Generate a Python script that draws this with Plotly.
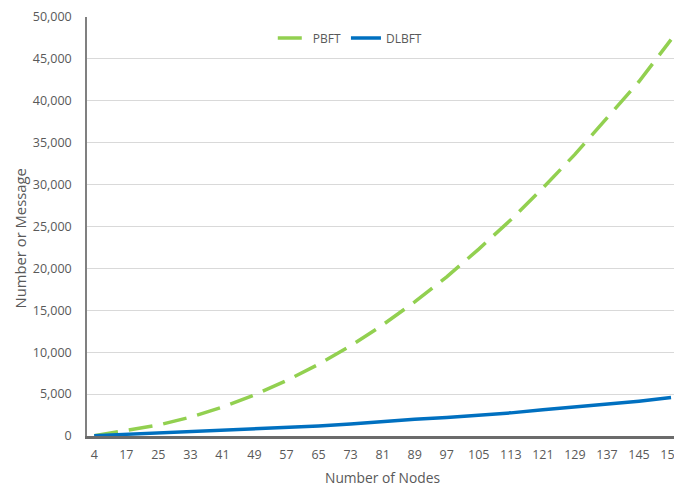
import plotly.graph_objects as go

nodes = ["4", "17", "25", "33", "41", "49", "57", "65", "73", "81", "89", "97",
         "105", "113", "121", "129", "137", "145", "153"]
pbft = [30, 620, 1300, 2250, 3450, 4900, 6600, 8550, 10750, 13250, 16000, 19000,
        22300, 25800, 29600, 33600, 37900, 42300, 47300]
dlbft = [40, 200, 360, 520, 680, 880, 1060, 1200, 1440, 1740, 1990, 2220,
         2480, 2760, 3120, 3440, 3800, 4160, 4590]

FONT = "Open Sans"
GRAY = "#595959"

fig = go.Figure()
fig.add_trace(go.Scatter(x=nodes, y=pbft, name="PBFT", mode="lines",
                         line=dict(color="#92D050", width=3.5, dash="24px,11px")))
fig.add_trace(go.Scatter(x=nodes, y=dlbft, name="DLBFT", mode="lines",
                         line=dict(color="#0070C0", width=3.5)))

# page body has an 8px default margin, so the figure is 8px smaller and shifted
fig.update_layout(
    width=674, height=479,
    margin=dict(l=79, r=0, t=9, b=51),
    paper_bgcolor="white", plot_bgcolor="white",
    font=dict(family=FONT, size=12.5, color=GRAY),
    showlegend=True,
    legend=dict(orientation="h", x=0.447, xanchor="center", y=0.95, yanchor="middle",
                bgcolor="rgba(0,0,0,0)", font=dict(size=12, color=GRAY)),
    xaxis=dict(type="category", range=[-0.226, 18.155], showgrid=False,
               showline=True, linecolor="#6b6b6b", linewidth=2.5,
               ticks="", ticklabelstandoff=5, tickfont=dict(size=12.5, color=GRAY),
               zeroline=False),
    yaxis=dict(range=[0, 50000], dtick=5000, tickformat=",d",
               showgrid=True, gridcolor="#d9d9d9", gridwidth=1,
               showline=True, linecolor="#808080", linewidth=1.5,
               ticks="", ticklabelstandoff=11, tickfont=dict(size=12.5, color=GRAY),
               zeroline=False),
    annotations=[
        dict(text="Number of Nodes", xref="paper", yref="paper", x=0.5025, y=-0.099,
             xanchor="center", yanchor="middle", showarrow=False,
             font=dict(size=13.8, color=GRAY, family=FONT)),
        dict(text="Number or Message", xref="paper", yref="paper", x=-0.113, y=0.4726,
             xanchor="center", yanchor="middle", textangle=-90, showarrow=False,
             font=dict(size=14.8, color=GRAY, family=FONT)),
    ],
)

fig.write_html("out.html")
